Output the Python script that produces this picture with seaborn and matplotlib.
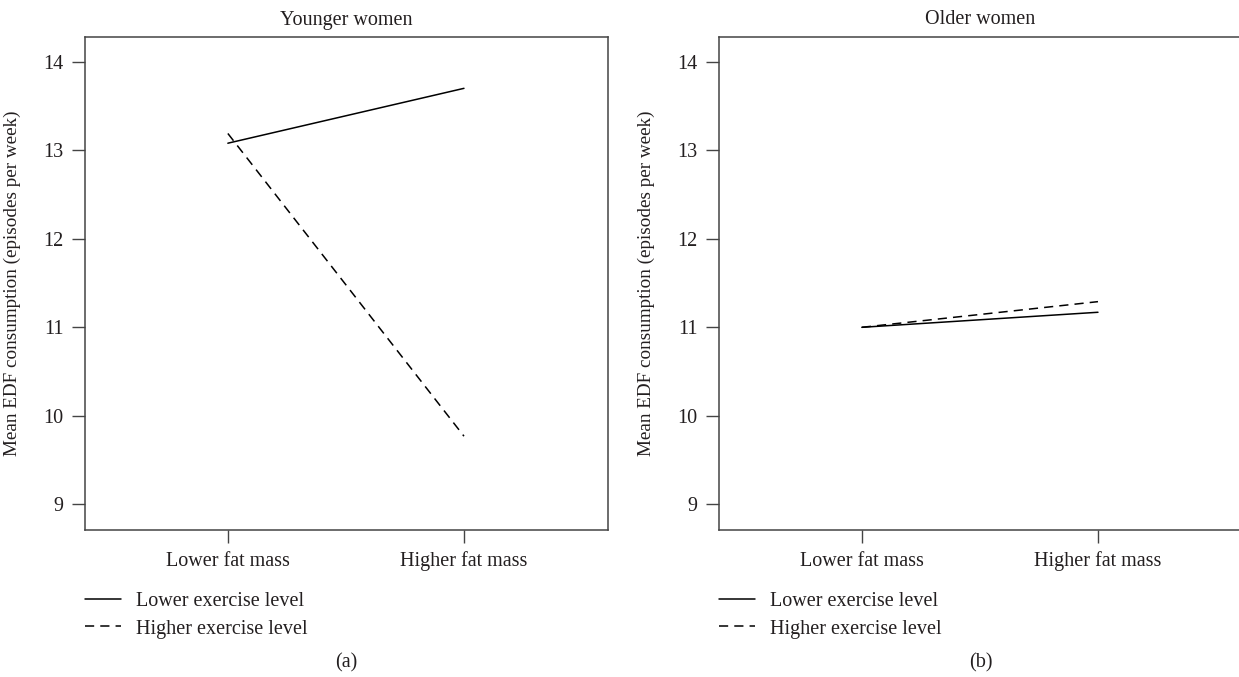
import pandas as pd
import matplotlib.pyplot as plt
import seaborn as sns

# values
fat_mass = ["Lower fat mass", "Higher fat mass"]
exercise = ["Lower exercise level", "Higher exercise level"]
younger_low_ex = [13.08, 13.70]
younger_high_ex = [13.19, 9.77]
older_low_ex = [11.00, 11.17]
older_high_ex = [11.00, 11.29]
y_ticks = [9, 10, 11, 12, 13, 14]

panels = [
    ("Younger women", "(a)", younger_low_ex, younger_high_ex),
    ("Older women", "(b)", older_low_ex, older_high_ex),
]

sns.set_style("white")
plt.rcParams["font.family"] = ["Liberation Serif", "DejaVu Serif"]
ink = "#231f20"
fs = 14.5

fig = plt.figure(figsize=(12.39, 6.77), dpi=100)
lefts = [85 / 1239, 719 / 1239]

for (title, tag, low, high), left in zip(panels, lefts):
    ax = fig.add_axes([left, 1 - 530 / 677, 523 / 1239, 493 / 677])
    df = pd.DataFrame({
        "pos": [0, 1, 0, 1],
        "value": low + high,
        "Exercise": [exercise[0]] * 2 + [exercise[1]] * 2,
    })
    sns.lineplot(data=df, x="pos", y="value", style="Exercise",
                 style_order=exercise, dashes={exercise[0]: "", exercise[1]: (6, 4)},
                 color="black", linewidth=1.1, ax=ax)

    ax.set_xlim(-0.605, 1.61)
    ax.set_ylim(8.71, 14.28)
    ax.set_xticks([0, 1])
    ax.set_xticklabels(fat_mass)
    ax.set_yticks(y_ticks)
    ax.set_xlabel("")
    ax.set_ylabel("Mean EDF consumption (episodes per week)", fontsize=13.8, color=ink)
    ax.yaxis.set_label_coords(-0.122, 0.5)
    ax.set_title(title, fontsize=fs, color=ink, pad=9)
    ax.tick_params(axis="both", direction="out", length=9.5, width=1.0,
                   color="#444444", labelsize=fs, labelcolor=ink, pad=6,
                   bottom=True, left=True)
    for sp in ax.spines.values():
        sp.set_color("#444444")
        sp.set_linewidth(1.1)

    handles, labels = ax.get_legend_handles_labels()
    ax.legend(handles, labels, loc="upper left", bbox_to_anchor=(-0.015, -0.11),
              frameon=False, fontsize=fs, handlelength=1.8, handletextpad=0.7,
              labelspacing=0.4, borderaxespad=0, labelcolor=ink)

    fig.text(left + 523 / 1239 / 2, 1 - 663 / 677, tag,
             ha="center", va="center", fontsize=fs, color=ink)

fig.savefig("out.png", dpi=100)
